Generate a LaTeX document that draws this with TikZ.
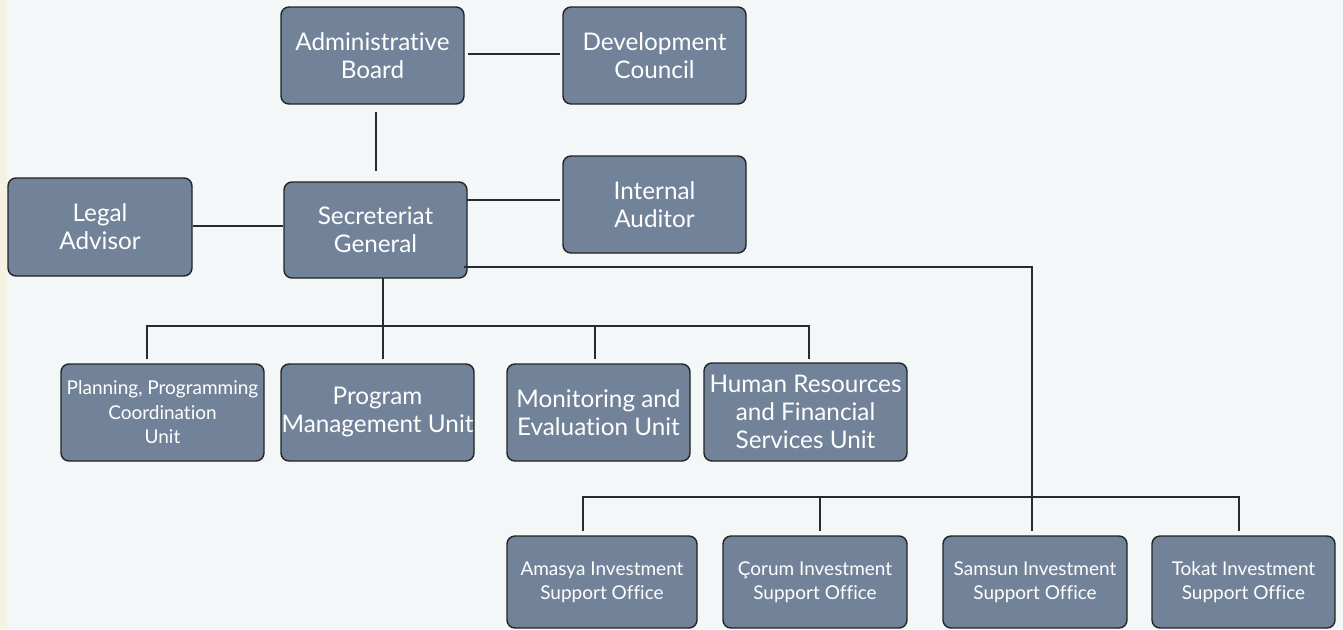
\documentclass[tikz,border=0pt]{standalone}
\usepackage{fontspec}
\setmainfont{Lato}[Ligatures={NoCommon}]
\definecolor{bgc}{RGB}{243,247,248}
\definecolor{stripc}{RGB}{245,242,226}
\definecolor{boxfill}{RGB}{113,130,153}
\definecolor{boxline}{RGB}{34,36,38}
\definecolor{linec}{RGB}{40,42,44}
\begin{document}
\begin{tikzpicture}[x=1pt,y=-1pt,
  box/.style={draw=boxline, line width=1.4pt, fill=boxfill, rounded corners=8pt,
    text=white, align=center, inner sep=0pt},
  big/.style={font=\fontsize{24.3}{28}\selectfont},
  mid/.style={font=\fontsize{19}{24.5}\selectfont},
  small/.style={font=\fontsize{19}{24}\selectfont},
  conn/.style={draw=linec, line width=1.3pt}]
\fill[bgc] (0,0) rectangle (1343,629);
\fill[stripc] (0,0) rectangle (7,629);
\useasboundingbox (0,0) rectangle (1343,629);

% top
\node[box, big, minimum width=183pt, minimum height=97pt] (AB) at (372.5,55.5) {Administrative\\Board};
\node[box, big, minimum width=183pt, minimum height=97pt] (DC) at (654.5,55.5) {Development\\Council};
\node[box, big, minimum width=184pt, minimum height=98pt] (LA) at (100,227) {Legal\\Advisor};
\node[box, big, minimum width=183pt, minimum height=96pt] (SG) at (375.5,230) {Secreteriat\\General};
\node[box, big, minimum width=183pt, minimum height=97pt] (IA) at (654.5,204.5) {Internal\\Auditor};

% units
\node[box, mid, minimum width=203pt, minimum height=97pt] (PPC) at (162.5,412.5) {Planning, Programming\\Coordination\\Unit};
\node[box, big, minimum width=193pt, minimum height=97pt] (PM) at (377.5,412.5) {Program\\Management Unit};
\node[box, big, minimum width=183pt, minimum height=97pt] (ME) at (598.5,412.5) {Monitoring and\\Evaluation Unit};
\node[box, big, minimum width=203pt, minimum height=98pt] (HR) at (805.5,412) {Human Resources\\and Financial\\Services Unit};

% offices
\node[box, small, minimum width=190pt, minimum height=92pt] (AM) at (602,582) {Amasya Investment\\Support Office};
\node[box, small, minimum width=184pt, minimum height=92pt] (CO) at (815,582) {Çorum Investment\\Support Office};
\node[box, small, minimum width=184pt, minimum height=92pt] (SA) at (1035,582) {Samsun Investment\\Support Office};
\node[box, small, minimum width=183pt, minimum height=92pt] (TO) at (1243.5,582) {Tokat Investment\\Support Office};

% coordinates
\coordinate (abd) at (376,112);
\coordinate (sgu) at (376,171);
\coordinate (iaL) at (560,200);
\coordinate (sgR1) at (467,200);
\coordinate (sgR2) at (464,267);
\coordinate (c1) at (1032,267);
\coordinate (sgB) at (383,278);
\coordinate (u0) at (383,326);
\coordinate (uL) at (147,326);
\coordinate (uR) at (809,326);
\coordinate (d1) at (147,359);
\coordinate (d2) at (383,359);
\coordinate (d3) at (595,359);
\coordinate (d4) at (809,359);
\coordinate (oL) at (583,497);
\coordinate (oR) at (1239,497);
\coordinate (e1) at (583,531);
\coordinate (e2) at (820,531);
\coordinate (e3) at (1032,531);
\coordinate (e4) at (1239,531);

% connectors
\draw[conn] (AB.east |- 0,54) ++(3,0) -- (560,54);
\draw[conn] (abd) -- (sgu);
\draw[conn] (LA.east |- 0,226) -- (SG.west |- 0,226);
\draw[conn] (sgR1) -- (iaL);
\draw[conn] (sgR2) -- (c1) -- (e3);
\draw[conn] (sgB) -- (u0);
\draw[conn] (d1) -- (uL) -- (uR) -- (d4);
\draw[conn] (u0) -- (d2);
\draw[conn] (d3 |- uL) -- (d3);
\draw[conn] (e1) -- (oL) -- (oR) -- (e4);
\draw[conn] (e2 |- oL) -- (e2);
\end{tikzpicture}
\end{document}
